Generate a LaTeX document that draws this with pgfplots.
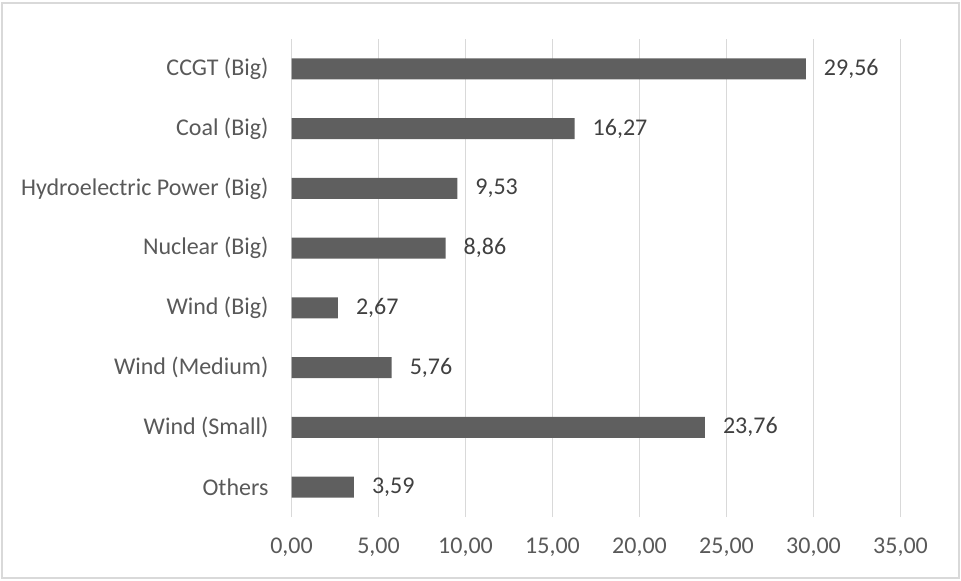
\documentclass[border=0pt]{standalone}
\usepackage{pgfplots}
\pgfplotsset{compat=1.18}
\usepackage{fontspec}
\setmainfont{Carlito}
\definecolor{barc}{HTML}{5F5F5F}
\definecolor{gridc}{HTML}{D9D9D9}
\definecolor{labc}{HTML}{595959}
\definecolor{valc}{HTML}{404040}
\begin{document}
\begin{tikzpicture}[x=1pt,y=1pt]
\useasboundingbox (0,0) rectangle (480.5,290);
\draw[gridc, line width=0.75pt] (1,1) rectangle (479.5,288.5);
\begin{axis}[
  at={(145.75pt,31.5pt)}, anchor=south west,
  scale only axis, width=304.5pt, height=239pt,
  xmin=0, xmax=35, ymin=-0.5, ymax=7.5,
  xtick={0,5,...,35},
  ytick={0,...,7},
  yticklabels={Others, Wind (Small), Wind (Medium), Wind (Big), Nuclear (Big), Hydroelectric Power (Big), Coal (Big), CCGT (Big)},
  xmajorgrids, ymajorgrids=false,
  grid style={gridc, line width=0.75pt},
  axis line style={draw=none},
  tick style={draw=none},
  xticklabel style={font=\fontsize{12}{14.4}\selectfont, text=labc, yshift=-7pt,
     /pgf/number format/.cd, fixed, fixed zerofill, precision=2, use comma, assume math mode=true},
  yticklabel style={font=\fontsize{12}{14.4}\selectfont, text=labc, xshift=-8pt},
  scaled x ticks=false,
  clip=false,
]
\addplot[xbar, bar width=10.5pt, bar shift=0pt, fill=barc, draw=none,
  point meta=x,
  nodes near coords={\pgfmathprintnumber[fixed, fixed zerofill, precision=2, use comma, assume math mode=true]{\pgfplotspointmeta}},
  nodes near coords style={font=\fontsize{12}{14.4}\selectfont, text=valc, anchor=west, xshift=5.5pt}]
  coordinates {(3.59,0) (23.76,1) (5.76,2) (2.67,3) (8.86,4) (9.53,5) (16.27,6) (29.56,7)};
\end{axis}
\end{tikzpicture}
\end{document}
